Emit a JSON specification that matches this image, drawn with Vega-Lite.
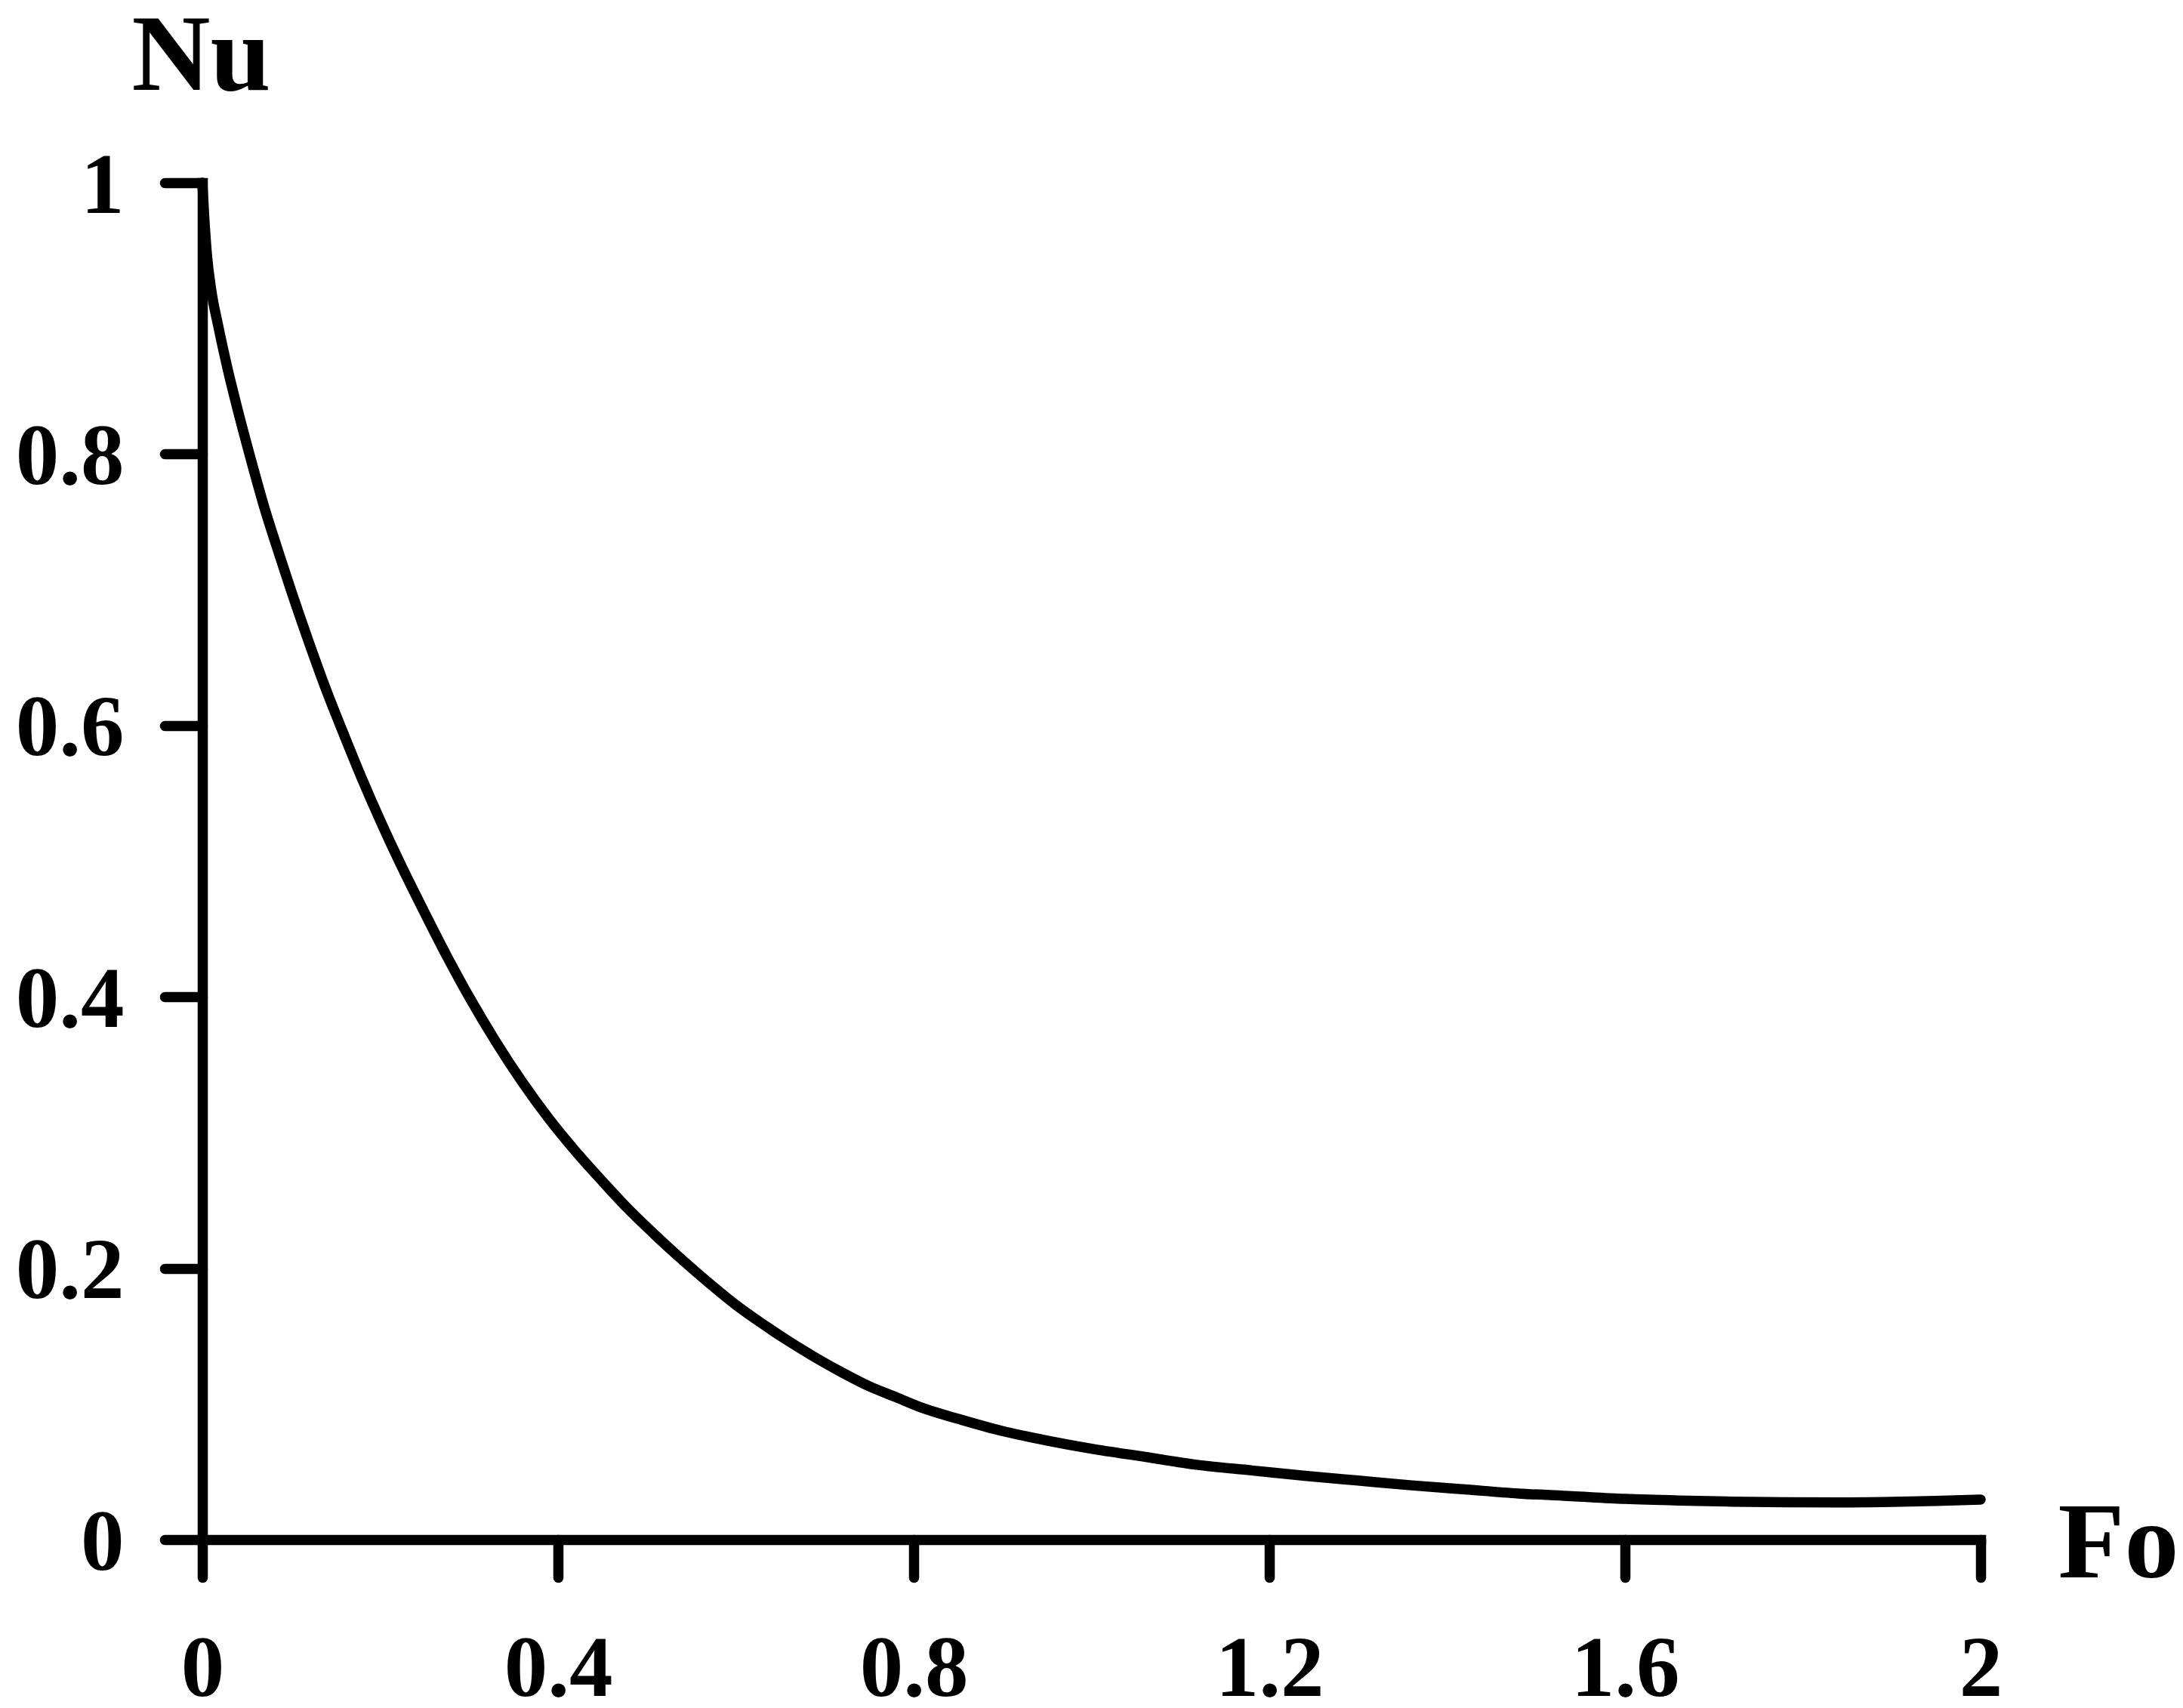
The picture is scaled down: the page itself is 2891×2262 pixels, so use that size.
{
  "$schema": "https://vega.github.io/schema/vega-lite/v6.json",
  "width": 2355,
  "height": 1797,
  "autosize": {"type": "none"},
  "padding": {"left": 268, "top": 242, "right": 268, "bottom": 223},
  "background": "white",
  "config": {
    "view": {"stroke": null},
    "axis": {
      "grid": false,
      "domainColor": "black",
      "domainWidth": 13.5,
      "domainCap": "square",
      "tickColor": "black",
      "tickWidth": 13.5,
      "tickSize": 50,
      "tickCap": "round",
      "labelFont": "Liberation Serif",
      "labelFontWeight": "bold",
      "labelFontSize": 115,
      "labelColor": "black",
      "labelFlush": false,
      "labelOverlap": false,
      "titleFont": "Liberation Serif",
      "titleFontWeight": "bold",
      "titleFontSize": 144,
      "titleColor": "black",
      "titleAngle": 0,
      "titleBaseline": "alphabetic"
    }
  },
  "data": {
    "values": [
      {"Fo": 0.0, "Nu": 1.0},
      {"Fo": 0.002, "Nu": 0.976},
      {"Fo": 0.005, "Nu": 0.948},
      {"Fo": 0.01, "Nu": 0.921},
      {"Fo": 0.018, "Nu": 0.894},
      {"Fo": 0.028, "Nu": 0.864},
      {"Fo": 0.04, "Nu": 0.832},
      {"Fo": 0.055, "Nu": 0.795},
      {"Fo": 0.07, "Nu": 0.76},
      {"Fo": 0.085, "Nu": 0.729},
      {"Fo": 0.1, "Nu": 0.699},
      {"Fo": 0.12, "Nu": 0.661},
      {"Fo": 0.14, "Nu": 0.625},
      {"Fo": 0.16, "Nu": 0.592},
      {"Fo": 0.18, "Nu": 0.56},
      {"Fo": 0.2, "Nu": 0.53},
      {"Fo": 0.225, "Nu": 0.495},
      {"Fo": 0.25, "Nu": 0.462},
      {"Fo": 0.275, "Nu": 0.43},
      {"Fo": 0.3, "Nu": 0.4},
      {"Fo": 0.33, "Nu": 0.367},
      {"Fo": 0.36, "Nu": 0.337},
      {"Fo": 0.39, "Nu": 0.31},
      {"Fo": 0.42, "Nu": 0.286},
      {"Fo": 0.45, "Nu": 0.264},
      {"Fo": 0.48, "Nu": 0.243},
      {"Fo": 0.51, "Nu": 0.224},
      {"Fo": 0.54, "Nu": 0.206},
      {"Fo": 0.57, "Nu": 0.189},
      {"Fo": 0.6, "Nu": 0.173},
      {"Fo": 0.63, "Nu": 0.159},
      {"Fo": 0.66, "Nu": 0.146},
      {"Fo": 0.69, "Nu": 0.134},
      {"Fo": 0.72, "Nu": 0.123},
      {"Fo": 0.75, "Nu": 0.113},
      {"Fo": 0.78, "Nu": 0.105},
      {"Fo": 0.81, "Nu": 0.097},
      {"Fo": 0.85, "Nu": 0.089},
      {"Fo": 0.9, "Nu": 0.08},
      {"Fo": 0.95, "Nu": 0.073},
      {"Fo": 1.0, "Nu": 0.067},
      {"Fo": 1.06, "Nu": 0.061},
      {"Fo": 1.12, "Nu": 0.055},
      {"Fo": 1.18, "Nu": 0.051},
      {"Fo": 1.24, "Nu": 0.047},
      {"Fo": 1.3, "Nu": 0.0435},
      {"Fo": 1.36, "Nu": 0.04},
      {"Fo": 1.42, "Nu": 0.037},
      {"Fo": 1.48, "Nu": 0.034},
      {"Fo": 1.54, "Nu": 0.032},
      {"Fo": 1.6, "Nu": 0.03},
      {"Fo": 1.66, "Nu": 0.0288},
      {"Fo": 1.72, "Nu": 0.028},
      {"Fo": 1.78, "Nu": 0.0275},
      {"Fo": 1.84, "Nu": 0.0274},
      {"Fo": 1.9, "Nu": 0.0278},
      {"Fo": 1.95, "Nu": 0.0285},
      {"Fo": 2.0, "Nu": 0.0295}
    ]
  },
  "mark": {
    "type": "line",
    "color": "black",
    "strokeWidth": 13.5,
    "strokeCap": "round",
    "strokeJoin": "round",
    "interpolate": "monotone",
    "clip": false
  },
  "encoding": {
    "x": {
      "field": "Fo",
      "type": "quantitative",
      "scale": {"domain": [0, 2], "nice": false, "zero": false},
      "axis": {
        "values": [0, 0.4, 0.8, 1.2, 1.6, 2],
        "format": "~g",
        "labelPadding": 65,
        "labelBaseline": "top",
        "title": "Fo",
        "titleAlign": "left",
        "titleX": 2457,
        "titleY": 49
      }
    },
    "y": {
      "field": "Nu",
      "type": "quantitative",
      "scale": {"domain": [0, 1], "nice": false, "zero": false},
      "axis": {
        "values": [0, 0.2, 0.4, 0.6, 0.8, 1],
        "format": "~g",
        "labelPadding": 54,
        "labelBaseline": "middle",
        "labelAlign": "right",
        "labelOffset": 4,
        "title": "Nu",
        "titleAlign": "center",
        "titleX": -2,
        "titleY": -124
      }
    }
  }
}
